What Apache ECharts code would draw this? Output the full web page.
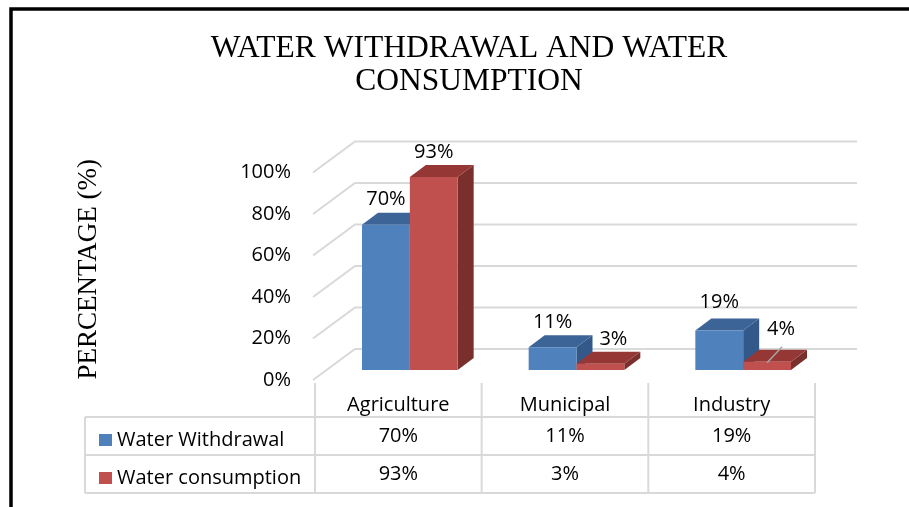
<!DOCTYPE html>
<html>
<head>
<meta charset="utf-8">
<script src="https://cdn.jsdelivr.net/npm/echarts@6/dist/echarts.min.js"></script>
<style>
  html, body { margin: 0; padding: 0; background: #fff; }
  #chart { width: 909px; height: 507px; }
</style>
</head>
<body>
<div id="chart"></div>
<script>
const categories = ['Agriculture', 'Municipal', 'Industry'];
const withdrawal = [70, 11, 19];
const consumption = [93, 3, 4];
const yTicks = [0, 20, 40, 60, 80, 100];
const seriesNames = ['Water Withdrawal', 'Water consumption'];

// 3D look
const WALL_DX = 42, WALL_DY = -31;   // back wall offset
const PLANE_DX = 11.5, PLANE_DY = -10; // bars sit in the middle of the floor
const DEPTH_DX = 16, DEPTH_DY = -12;  // bar depth
const GRID_LINE = '#d9d9d9';
const FONT = '"Open Sans", sans-serif';

const faces = [
  { front: '#4f81bd', top: '#3c6496', side: '#33588a' },
  { front: '#c0504d', top: '#943735', side: '#7b2f2d' }
];
// label nudges (px) for the small red bars, like the original
const labelShift = [
  [[0, -25], [0, -25], [0, -28]],
  [[0, -25], [13, -24], [14, -32]]
];
const leader = [[false, false, false], [false, false, true]];

const chart = echarts.init(document.getElementById('chart'));

function barRenderer(s) {
  return function (params, api) {
    const cat = api.value(0), v = api.value(1);
    const base = api.coord([cat, 0]);
    const top = api.coord([cat, v]);
    const bw = api.size([1, 0])[0] * 0.287;
    const x0 = base[0] + PLANE_DX + (s === 0 ? -bw : 0);
    const yb = base[1] + PLANE_DY, yt = top[1] + PLANE_DY;
    const c = faces[s];
    const off = labelShift[s][params.dataIndex];
    const cx = x0 + bw / 2;
    const children = [
      { type: 'polygon', shape: { points: [[x0 + bw, yt], [x0 + bw + DEPTH_DX, yt + DEPTH_DY], [x0 + bw + DEPTH_DX, yb + DEPTH_DY], [x0 + bw, yb]] }, style: { fill: c.side } },
      { type: 'polygon', shape: { points: [[x0, yt], [x0 + bw, yt], [x0 + bw + DEPTH_DX, yt + DEPTH_DY], [x0 + DEPTH_DX, yt + DEPTH_DY]] }, style: { fill: c.top } },
      { type: 'rect', shape: { x: x0, y: yt, width: bw, height: yb - yt }, style: { fill: c.front } },
      { type: 'text', style: { text: v + '%', x: cx + off[0], y: yt + off[1], align: 'center', verticalAlign: 'middle', font: '20px ' + FONT, fill: '#000' } }
    ];
    if (leader[s][params.dataIndex]) {
      children.push({ type: 'line', shape: { x1: cx, y1: yt + 1, x2: cx + 15, y2: yt - 15 }, style: { stroke: '#a6a6a6', lineWidth: 1.5 } });
    }
    return { type: 'group', children: children };
  };
}

function gridRenderer(params, api) {
  const v = api.value(1);
  const p = api.coord([0, v]);
  const cs = params.coordSys;
  const xl = cs.x - 2;
  return {
    type: 'polyline',
    shape: { points: [[xl, p[1]], [xl + WALL_DX, p[1] + WALL_DY], [cs.x + cs.width + WALL_DX, p[1] + WALL_DY]] },
    style: { stroke: GRID_LINE, lineWidth: 2, fill: null }
  };
}

// data table under the axis
function tableRenderer(params, api) {
  const i = api.value(0);
  const cs = params.coordSys;
  const colW = cs.width / categories.length;
  const y0 = cs.y + cs.height;
  const xl = cs.x + i * colW, xr = xl + colW, xc = xl + colW / 2;
  const lineStyle = { stroke: GRID_LINE, lineWidth: 2 };
  const children = [
    { type: 'line', shape: { x1: xl, y1: y0 + 3, x2: xl, y2: y0 + 113 }, style: lineStyle },
    { type: 'text', style: { text: api.value(1) + '%', x: xc, y: y0 + 56, align: 'center', verticalAlign: 'middle', font: '20px ' + FONT, fill: '#000' } },
    { type: 'text', style: { text: api.value(2) + '%', x: xc, y: y0 + 94, align: 'center', verticalAlign: 'middle', font: '20px ' + FONT, fill: '#000' } }
  ];
  if (i === categories.length - 1) {
    children.push({ type: 'line', shape: { x1: xr, y1: y0 + 3, x2: xr, y2: y0 + 113 }, style: lineStyle });
  }
  if (i === 0) {
    const left = 85;
    [37, 75, 113].forEach(function (dy) {
      children.push({ type: 'line', shape: { x1: left, y1: y0 + dy, x2: cs.x + cs.width, y2: y0 + dy }, style: lineStyle });
    });
    children.push({ type: 'line', shape: { x1: left, y1: y0 + 37, x2: left, y2: y0 + 113 }, style: lineStyle });
  }
  return { type: 'group', children: children };
}

const option = {
  backgroundColor: '#fff',
  animation: false,
  title: {
    text: 'WATER WITHDRAWAL AND WATER\nCONSUMPTION',
    left: 464,
    top: 27,
    textAlign: 'center',
    textStyle: { fontFamily: '"Liberation Serif", serif', fontSize: 31.5, fontWeight: 'normal', color: '#000', lineHeight: 33 }
  },
  legend: {
    data: seriesNames,
    orient: 'vertical',
    left: 94,
    top: 425,
    icon: 'rect',
    itemWidth: 13,
    itemHeight: 12,
    itemGap: 18,
    selectedMode: false,
    textStyle: { fontFamily: FONT, fontSize: 20, lineHeight: 20, color: '#000' }
  },
  grid: { left: 315, right: 94, top: 172.5, bottom: 127 },
  xAxis: {
    type: 'category',
    data: categories,
    axisLine: { show: false },
    axisTick: { show: false },
    axisLabel: { margin: 15, fontFamily: FONT, fontSize: 20, color: '#000' }
  },
  yAxis: {
    type: 'value',
    min: 0,
    max: 100,
    interval: 20,
    name: 'PERCENTAGE (%)',
    nameLocation: 'middle',
    nameRotate: 90,
    nameGap: 213,
    nameTextStyle: { fontFamily: '"Liberation Serif", serif', fontSize: 27, color: '#000', padding: [0, 0, 0, 14] },
    axisLine: { show: false },
    axisTick: { show: false },
    splitLine: { show: false },
    axisLabel: { margin: 24, formatter: '{value}%', fontFamily: FONT, fontSize: 20, color: '#000' }
  },
  graphic: [
    { type: 'polyline', shape: { points: [[11, 507], [11, 9], [909, 9]] }, style: { stroke: '#000', lineWidth: 3.5, fill: null }, z: 100 }
  ],
  series: [
    {
      type: 'custom', name: 'grid', silent: true, clip: false, z: 1,
      renderItem: gridRenderer,
      data: yTicks.map(function (v) { return [0, v]; })
    },
    {
      type: 'custom', name: seriesNames[0], clip: false, z: 2,
      itemStyle: { color: faces[0].front },
      renderItem: barRenderer(0),
      data: withdrawal.map(function (v, i) { return [i, v]; })
    },
    {
      type: 'custom', name: seriesNames[1], clip: false, z: 3,
      itemStyle: { color: faces[1].front },
      renderItem: barRenderer(1),
      data: consumption.map(function (v, i) { return [i, v]; })
    },
    {
      type: 'custom', name: 'table', silent: true, clip: false, z: 1,
      renderItem: tableRenderer,
      encode: { x: 0, y: 1 },
      data: categories.map(function (c, i) { return [i, withdrawal[i], consumption[i]]; })
    }
  ]
};

chart.setOption(option);
</script>
</body>
</html>
